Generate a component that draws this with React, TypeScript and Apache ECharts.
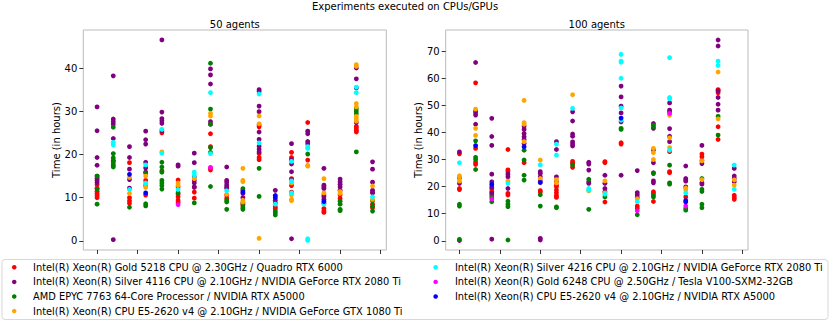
import React, { useEffect, useRef } from "react";
import * as echarts from "echarts";

const FONT = "DejaVu Sans";

const mainTitle = "Experiments executed on CPUs/GPUs";
const panelTitles = ["50 agents", "100 agents"];
const yAxisName = "Time (in hours)";
const xTicks = [0, 2.5, 5, 7.5, 10, 12.5, 15, 17.5];
const yTicks50 = [0, 10, 20, 30, 40];
const yTicks100 = [0, 10, 20, 30, 40, 50, 60, 70];

const hardware = [
  "Intel(R) Xeon(R) Gold 5218 CPU @ 2.30GHz / Quadro RTX 6000",
  "Intel(R) Xeon(R) Silver 4116 CPU @ 2.10GHz / NVIDIA GeForce RTX 2080 Ti",
  "AMD EPYC 7763 64-Core Processor / NVIDIA RTX A5000",
  "Intel(R) Xeon(R) CPU E5-2620 v4 @ 2.10GHz / NVIDIA GeForce GTX 1080 Ti",
  "Intel(R) Xeon(R) Silver 4216 CPU @ 2.10GHz / NVIDIA GeForce RTX 2080 Ti",
  "Intel(R) Xeon(R) Gold 6248 CPU @ 2.50GHz / Tesla V100-SXM2-32GB",
  "Intel(R) Xeon(R) CPU E5-2620 v4 @ 2.10GHz / NVIDIA RTX A5000",
];
const colors = ["#ff0000", "#800080", "#008000", "#ffa500", "#00ffff", "#ff00ff", "#0000ff"];

// 50 agents: one list of run times per experiment (x = 0..17)
const red50 = [
  [13.0, 12.2, 11.5, 11.0, 10.5, 10.0], [18.0, 18.6], [18.1, 10.0, 9.3, 8.7], [14.0, 12.8, 10.6],
  [25.0, 16.2], [14.1, 12.5, 10.8, 10.2, 9.4, 8.9], [12.5, 11.3, 9.9], [24.8, 21.8, 16.8, 16.4],
  [10.6, 9.9], [8.5, 8.2], [26.8, 26.4, 20.2, 19.3, 18.8], [7.9, 7.5], [20.5, 19.3, 14.4, 12.8, 11.3],
  [27.4, 18.7], [10.6, 8.7, 7.5, 6.9, 6.6], [10.6, 9.8], [26.5, 26.1, 25.6, 25.2], [11.2, 8.5, 7.7],
];
const purple50 = [
  [31.0, 25.5, 19.3, 17.5, 15.0, 14.5, 14.0, 13.5], [38.2, 28.2, 27.6, 27.0, 23.7, 0.3],
  [21.8, 19.3, 16.6, 14.2, 12.2], [25.4, 23.4, 22.4, 18.2, 16.9, 15.9], [46.5, 29.8, 28.3, 27.8, 27.2, 25.5],
  [17.6, 17.3], [20.3, 18.1, 14.8, 14.0, 13.4, 12.4], [39.8, 38.4, 36.3, 27.6, 27.0],
  [17.1, 14.0, 13.6, 13.0, 12.5, 12.2], [11.7, 11.0, 10.0], [35.0, 34.6, 31.2, 29.9, 25.2, 23.5, 21.9, 21.2, 20.6],
  [11.7, 9.4, 8.8], [22.5, 18.8, 17.8, 16.0, 14.2, 0.5], [25.4, 24.8, 23.0, 22.5],
  [16.8, 12.9, 12.5, 12.1, 10.2, 9.6], [14.3, 13.7, 13.1, 12.5, 11.7], [40.0, 37.5, 35.4, 27.4],
  [18.3, 16.6, 13.6, 11.7, 11.1],
];
const green50 = [
  [15.0, 12.0, 8.5], [26.3, 20.2, 19.2, 18.5, 17.5, 17.1], [7.8], [15.7, 8.6, 8.1],
  [18.2, 17.1, 15.9, 14.0, 13.4, 12.8, 12.0], [11.1], [8.8], [41.1, 30.5, 27.0, 21.6, 20.5, 12.6],
  [9.4, 9.0, 7.3], [12.1, 8.8, 7.7, 7.3], [16.8, 10.3], [6.9, 6.5, 6.0], [], [20.1], [],
  [9.2, 8.5, 7.3, 7.0], [30.6, 30.0, 29.4, 20.6], [9.3, 8.0, 6.9],
];
const orange50 = [
  [], [], [14.7, 11.0], [15.0, 13.1, 12.4], [20.6], [13.4, 12.9], [14.4], [29.5, 28.9], [10.8],
  [16.8, 14.0, 13.7, 9.4, 9.0], [28.9, 27.1, 0.6], [], [13.4, 10.6, 9.6, 9.3], [17.5, 17.3],
  [14.4, 11.1], [11.4, 11.0], [40.8, 40.4, 31.8, 31.0, 28.8, 28.2, 27.7], [12.7, 9.6],
];
const cyan50 = [
  [], [22.8, 22.2], [11.9], [17.6, 13.4], [25.8, 20.3], [11.9], [15.9, 15.2], [34.3, 20.2], [11.6],
  [], [34.0, 22.7], [8.5], [18.4, 13.9, 11.1], [21.8, 21.4, 0.5, 0.1], [8.5], [], [35.6, 34.3], [10.2],
];
const magenta50 = [[], [], [], [], [], [8.4], [], [17.0], [], [], [], [], [], [], [], [], [], []];
const blue50 = [[], [], [15.4], [11.1], [], [], [], [], [], [11.3], [], [10.5, 10.0], [], [], [9.1], [], [], []];

// 100 agents
const red100 = [
  [32.1, 19.3, 18.9], [58.3, 47.2, 34.1, 29.0, 28.2], [19.2, 18.2, 17.0], [33.7, 26.2, 25.6, 17.5, 16.9],
  [28.8], [18.5, 18.0], [20.5, 19.9, 18.7, 17.7, 16.7, 16.0], [29.3, 28.6, 27.1], [],
  [29.2, 28.8, 14.3], [36.2, 35.7], [12.8, 12.0], [18.1, 17.5, 14.5], [32.9, 25.5, 25.1],
  [22.4, 16.2], [32.0, 31.0, 29.6], [55.8, 55.5, 54.6, 42.1, 37.4], [16.8, 16.0, 15.3],
];
const purple100 = [
  [32.8, 23.2, 21.2, 0.1], [65.8, 47.8, 46.4, 43.0], [45.2, 38.5, 35.2, 24.6, 21.8, 19.8, 17.6, 0.6],
  [24.6, 23.6, 19.3], [42.3, 41.1, 39.6, 38.4, 37.4, 35.9], [25.5, 24.8, 23.6, 22.1, 0.9, 0.3],
  [36.6, 33.7, 23.6, 21.8], [47.6, 44.2, 39.4, 38.6, 36.5, 35.7, 35.0], [29.0, 28.3, 26.1, 21.8, 21.2],
  [24.2, 21.2, 19.3, 18.1], [57.1, 53.1, 49.7, 47.2, 43.9, 24.2], [25.9, 17.8, 17.0, 16.0],
  [43.3, 41.5, 33.5, 28.8, 25.1, 22.1, 21.4], [50.9, 48.2, 47.6, 41.4, 38.6, 36.6],
  [27.6, 23.0, 22.0, 19.9], [35.2, 28.5, 21.4, 20.9], [74.1, 71.9, 55.3, 52.9, 50.4, 48.2],
  [26.7, 23.9, 23.0, 21.8],
];
const green100 = [
  [13.5, 12.8, 0.5], [36.9, 30.8, 30.0, 26.3], [16.2, 14.4], [14.6, 13.5, 12.6, 0.3],
  [33.4, 29.8, 24.2, 22.4], [17.0, 12.8], [12.5, 12.2], [28.0], [22.7, 11.6], [16.2], [41.5, 41.1],
  [9.6], [42.7, 42.1, 24.8, 16.8, 16.2], [27.9, 21.4, 20.9], [11.9, 11.3],
  [23.0, 19.0, 18.2, 13.5, 12.2], [45.9, 39.0], [],
];
const orange100 = [
  [24.0, 23.5, 22.0], [48.6, 41.5, 38.9], [], [22.0], [51.8, 43.6, 43.0, 36.6], [29.8, 23.0, 21.4],
  [22.6, 21.4], [53.9], [18.4], [22.1, 17.7], [], [15.5], [34.1, 32.5, 30.0], [46.3, 38.0, 34.4],
  [19.5, 18.9], [29.5, 22.6], [62.3, 45.0], [22.5, 20.5],
];
const cyan100 = [
  [28.8], [], [], [21.2], [], [28.0], [35.7, 31.6], [48.9], [19.3, 18.7], [17.2],
  [68.8, 66.3, 65.9, 60.0, 49.0, 44.5], [14.4], [], [67.6, 52.9, 52.4, 33.4], [17.7], [],
  [66.3, 64.7], [27.9, 19.0],
];
const magenta100 = [[], [], [15.5], [], [], [], [], [], [], [], [], [11.1], [], [47.0], [12.8], [], [], []];
const blue100 = [[], [35.1], [20.8], [], [34.7], [21.5], [], [], [], [], [45.3], [], [], [], [14.8, 14.3], [], [], []];

const panel50 = [red50, purple50, green50, orange50, cyan50, magenta50, blue50];
const panel100 = [red100, purple100, green100, orange100, cyan100, magenta100, blue100];

const toPoints = (cols: number[][]) => cols.flatMap((vals, i) => vals.map((v) => [i, v]));

export default function App() {
  const ref = useRef<HTMLDivElement>(null);
  useEffect(() => {
    document.body.style.margin = "0";
    const chart = echarts.init(ref.current!, null, { renderer: "svg" });
    const grids = [
      { left: 83.3, top: 30, width: 303, height: 220 },
      { left: 445.7, top: 30, width: 302.3, height: 220 },
    ];
    const yRanges = [
      { min: -2.1, max: 48.8, ticks: yTicks50 },
      { min: -3.4, max: 77.8, ticks: yTicks100 },
    ];
    const series: any[] = [];
    [panel50, panel100].forEach((panel, p) => {
      panel.forEach((cols, h) => {
        series.push({
          type: "scatter",
          name: hardware[h],
          xAxisIndex: p,
          yAxisIndex: p,
          data: toPoints(cols),
          symbol: "circle",
          symbolSize: 4.8,
          itemStyle: { color: colors[h], opacity: 1 },
          emphasis: { disabled: true },
        });
      });
    });
    const legendCommon = {
      orient: "vertical",
      icon: "circle",
      itemWidth: 4.5,
      itemHeight: 4.5,
      itemGap: 2.6,
      selectedMode: false,
      padding: 0,
      textStyle: { fontFamily: FONT, fontSize: 9.85, color: "#000", lineHeight: 12 },
    };
    const titleStyle = { fontFamily: FONT, fontSize: 10, fontWeight: "normal", color: "#000" };
    chart.setOption({
      animation: false,
      textStyle: { fontFamily: FONT },
      title: [
        { text: mainTitle, left: 405, textAlign: "center", top: 1, padding: 0, textStyle: titleStyle },
        { text: panelTitles[0], left: 234.8, textAlign: "center", top: 19, padding: 0, textStyle: titleStyle },
        { text: panelTitles[1], left: 596.8, textAlign: "center", top: 19, padding: 0, textStyle: titleStyle },
      ],
      grid: grids.map((g) => ({ ...g, show: true, borderColor: "#bbbbbb", borderWidth: 1, backgroundColor: "transparent" })),
      xAxis: grids.map((_, i) => ({
        type: "value",
        gridIndex: i,
        min: -0.85,
        max: 17.85,
        axisLine: { show: false, onZero: false },
        splitLine: { show: false },
        axisTick: { show: true, length: 4, customValues: xTicks, lineStyle: { color: "#333" } },
        axisLabel: { show: false },
      })),
      yAxis: yRanges.map((r, i) => ({
        type: "value",
        gridIndex: i,
        min: r.min,
        max: r.max,
        name: yAxisName,
        nameLocation: "middle",
        nameGap: 22,
        nameMoveOverlap: false,
        nameTextStyle: { fontFamily: FONT, fontSize: 10, color: "#000" },
        axisLine: { show: false, onZero: false },
        splitLine: { show: false },
        axisTick: { show: true, length: 4, customValues: r.ticks, lineStyle: { color: "#333" } },
        axisLabel: { show: true, customValues: r.ticks, margin: 6, fontFamily: FONT, fontSize: 10, color: "#000" },
      })),
      legend: [
        { ...legendCommon, left: 12, top: 261.3, data: hardware.slice(0, 4), textStyle: { ...legendCommon.textStyle, padding: [0, 0, 0, 11.5] } },
        { ...legendCommon, left: 433.4, top: 261.3, data: hardware.slice(4), textStyle: { ...legendCommon.textStyle, padding: [0, 0, 0, 12] } },
      ],
      graphic: [
        { type: "rect", shape: { x: 2, y: 259.5, width: 826, height: 60, r: 3 }, style: { fill: "#fff", stroke: "#d8d8d8", lineWidth: 1 }, z: -1 },
      ],
      series,
    });
    return () => chart.dispose();
  }, []);
  return <div ref={ref} style={{ width: 831, height: 322 }} />;
}
